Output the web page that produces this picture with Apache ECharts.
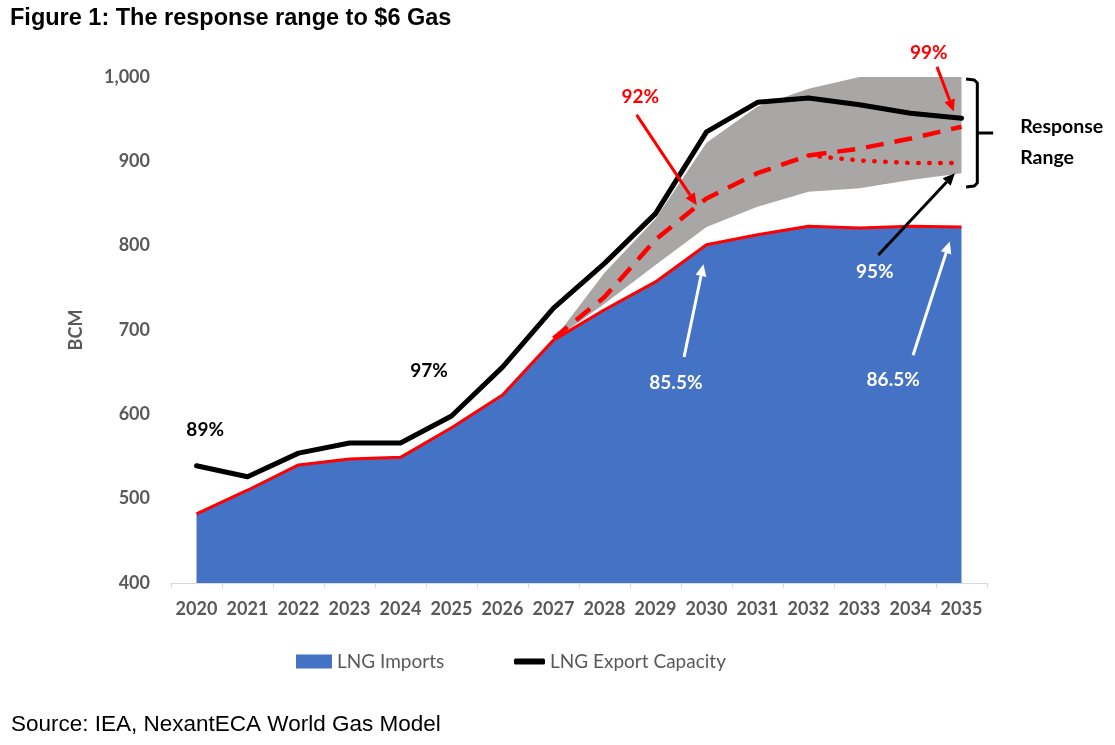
<!DOCTYPE html>
<html><head><meta charset="utf-8">
<script src="https://cdn.jsdelivr.net/npm/echarts@6.0.0/dist/echarts.min.js"></script>
<style>html,body{margin:0;padding:0;background:#fff}#c{width:1115px;height:745px}</style>
</head><body><div id="c"></div>
<script>
// ---- data ----
const years = ['2020','2021','2022','2023','2024','2025','2026','2027','2028','2029','2030','2031','2032','2033','2034','2035'];
const lngImports     = [482,510,540,547,549,584,623,688,724,757,801,813,823,821,823,822];
const exportCapacity = [539,526,554,566,566,598,656,726,779,838,935,970,975,967,957,951];
const rangeLow  = ['-','-','-','-','-','-','-',688,731,777,822,846,864,868,878,886];
const rangeHigh = ['-','-','-','-','-','-','-',688,768,832,922,965,986,1000,1000,1000];
const responseDashed = ['-','-','-','-','-','-','-',690,739,807,856,886,907,915,927,941];
const responseDotted = ['-','-','-','-','-','-','-','-','-','-','-','-',907,901,898,898];
const yMin = 400, yMax = 1000, yStep = 100;

// annotations, in data space (x = category index, y = BCM)
const pctLabels = [
  {text:'89%',   x:0.17,  y:582,  color:'#000000'},
  {text:'97%',   x:4.56,  y:651,  color:'#000000'},
  {text:'92%',   x:8.70,  y:976,  color:'#ff0000'},
  {text:'99%',   x:14.36, y:1029, color:'#ff0000'},
  {text:'95%',   x:13.30, y:769,  color:'#ffffff'},
  {text:'85.5%', x:9.40,  y:637,  color:'#ffffff'},
  {text:'86.5%', x:13.66, y:641,  color:'#ffffff'}
];
const arrows = [
  {from:[8.63,955],   to:[9.81,848],  color:'#ff0000'},
  {from:[14.52,1012], to:[14.85,959], color:'#ff0000'},
  {from:[9.56,668],   to:[9.94,778],  color:'#ffffff'},
  {from:[14.05,670],  to:[14.77,805], color:'#ffffff'},
  {from:[13.37,789],  to:[14.87,886], color:'#000000'}
];
const bracket = {xEnd:15.09, xBar:15.31, xTip:15.62, yTop:996.5, yMid:933.6, yBot:870.8};
const rangeText = {lines:['Response','Range'], x:16.15, y1:941, y2:904};

const chart = echarts.init(document.getElementById('c'));
const axisFont = {fontFamily:'Lato', fontWeight:'bold', fontSize:18, color:'#595959'};

const option = {
  animation:false,
  backgroundColor:'#ffffff',
  title:[
    {text:'Figure 1: The response range to $6 Gas', left:10, top:7, padding:0,
     textStyle:{fontFamily:'Liberation Sans', fontWeight:'bold', fontSize:23.5, color:'#000'}},
    {text:'Source: IEA, NexantECA World Gas Model', left:11, top:713, padding:0,
     textStyle:{fontFamily:'Liberation Sans', fontWeight:'normal', fontSize:22.5, color:'#000'}}
  ],
  legend:[
    {left:296, top:652, padding:0, itemWidth:36, itemHeight:14, selectedMode:false,
     textStyle:{fontFamily:'Lato', fontSize:19, color:'#595959'},
     data:[{name:'LNG Imports', icon:'rect', itemStyle:{color:'#4472C4', borderWidth:0, borderColor:'transparent'}}]},
    {left:514, top:652, padding:0, itemWidth:31, itemHeight:6, selectedMode:false,
     textStyle:{fontFamily:'Lato', fontSize:19, color:'#595959'},
     data:[{name:'LNG Export Capacity', icon:'roundRect', itemStyle:{color:'#000', borderWidth:0, borderColor:'transparent'}}]}
  ],
  grid:{left:171, right:128, top:77, bottom:162, containLabel:false},
  xAxis:{type:'category', data:years, boundaryGap:true,
    axisLine:{show:true, lineStyle:{color:'#d9d9d9', width:1}},
    axisTick:{show:true, length:5, lineStyle:{color:'#d9d9d9'}},
    axisLabel:Object.assign({margin:17, interval:0}, axisFont),
    splitLine:{show:false}},
  yAxis:{type:'value', min:yMin, max:yMax, interval:yStep,
    name:'BCM', nameLocation:'middle', nameGap:86, nameRotate:90,
    nameTextStyle:{fontFamily:'Lato', fontWeight:'bold', fontSize:18, color:'#595959'},
    axisLine:{show:false}, axisTick:{show:false}, splitLine:{show:false},
    axisLabel:Object.assign({margin:21, formatter:v => v.toLocaleString('en-US')}, axisFont)},
  series:[
    {name:'LNG Imports', type:'line', data:lngImports, symbol:'none', z:1,
     itemStyle:{color:'#4472C4'},
     lineStyle:{color:'#ff0000', width:3},
     areaStyle:{color:'#4472C4', opacity:1, origin:'start'}},
    {name:'rangeBase', type:'line', stack:'band', data:rangeLow, symbol:'none', z:2,
     lineStyle:{opacity:0, width:0}},
    {name:'rangeSpan', type:'line', stack:'band', symbol:'none', z:2,
     data:rangeHigh.map((h,i)=> h==='-' ? '-' : h - rangeLow[i]),
     lineStyle:{opacity:0, width:0},
     areaStyle:{color:'#a9a6a6', opacity:1}},
    {name:'LNG Export Capacity', type:'line', data:exportCapacity, symbol:'none', z:4,
     itemStyle:{color:'#000'},
     lineStyle:{color:'#000', width:5, cap:'round', join:'round'}},
    {name:'responseDashed', type:'line', data:responseDashed, symbol:'none', z:5,
     lineStyle:{color:'#ff0000', width:4.5, type:[18,11]}},
    {name:'responseDotted', type:'line', data:responseDotted, symbol:'none', z:5,
     lineStyle:{color:'#ff0000', width:4.5, type:[0.5,10.5], cap:'round'}}
  ]
};
chart.setOption(option);

// ---- annotations positioned through the chart's own scales ----
const xa = chart.convertToPixel({xAxisIndex:0}, years[0]);
const xb = chart.convertToPixel({xAxisIndex:0}, years[1]);
const P = (ix, v) => [xa + (xb - xa) * ix, chart.convertToPixel({yAxisIndex:0}, v)];

const graphics = [];
pctLabels.forEach(l => {
  const p = P(l.x, l.y);
  graphics.push({type:'text', z:20, x:p[0], y:p[1],
    style:{text:l.text, fill:l.color, fontFamily:'Lato', fontWeight:'bold', fontSize:19, align:'center', verticalAlign:'middle'}});
});
arrows.forEach(a => {
  const f = P(a.from[0], a.from[1]), t = P(a.to[0], a.to[1]);
  const ang = Math.atan2(t[1]-f[1], t[0]-f[0]);
  const L = 12, W = 5.5;
  const bx = t[0] - L*Math.cos(ang), by = t[1] - L*Math.sin(ang);
  graphics.push({type:'line', z:20, shape:{x1:f[0], y1:f[1], x2:bx, y2:by},
    style:{stroke:a.color, lineWidth:3}});
  graphics.push({type:'polygon', z:20, shape:{points:[
      [t[0], t[1]],
      [bx + W*Math.sin(ang), by - W*Math.cos(ang)],
      [bx - W*Math.sin(ang), by + W*Math.cos(ang)]]},
    style:{fill:a.color}});
});
(function(){
  const tl = P(bracket.xEnd, bracket.yTop), tr = P(bracket.xBar, bracket.yTop);
  const bl = P(bracket.xEnd, bracket.yBot), br = P(bracket.xBar, bracket.yBot);
  const mid = P(bracket.xBar, bracket.yMid), tip = P(bracket.xTip, bracket.yMid);
  graphics.push({type:'polyline', z:20, shape:{points:[
      [tl[0], tl[1]-1], [tr[0]-3, tr[1]], [tr[0], tr[1]+3], [br[0], br[1]-3], [br[0]-3, br[1]], [bl[0], bl[1]+1]]},
    style:{stroke:'#000', lineWidth:3, fill:null, lineJoin:'round'}});
  graphics.push({type:'line', z:20, shape:{x1:mid[0], y1:mid[1], x2:tip[0], y2:tip[1]},
    style:{stroke:'#000', lineWidth:3}});
  const r1 = P(rangeText.x, rangeText.y1), r2 = P(rangeText.x, rangeText.y2);
  graphics.push({type:'text', z:20, x:r1[0], y:r1[1],
    style:{text:rangeText.lines[0], fill:'#000', fontFamily:'Lato', fontWeight:'bold', fontSize:19.5, align:'left', verticalAlign:'middle'}});
  graphics.push({type:'text', z:20, x:r2[0], y:r2[1],
    style:{text:rangeText.lines[1], fill:'#000', fontFamily:'Lato', fontWeight:'bold', fontSize:19.5, align:'left', verticalAlign:'middle'}});
})();
chart.setOption({graphic:graphics});
</script>
</body></html>
